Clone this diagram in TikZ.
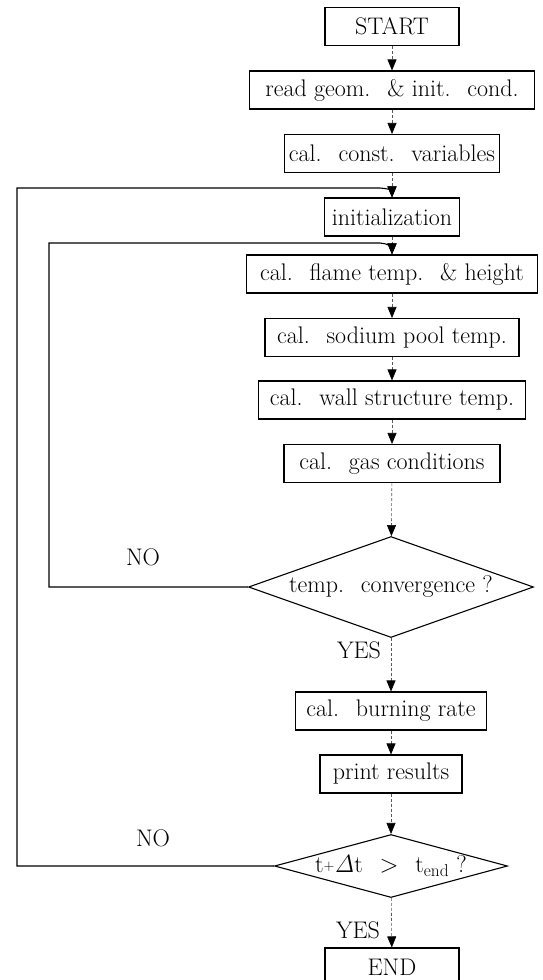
\documentclass[tikz,border=0pt]{standalone}
\usetikzlibrary{arrows.meta,shapes.geometric}
\newcommand{\wsp}{\hspace{0.7em}}

\begin{document}
\begin{tikzpicture}[x=1pt, y=-1pt, >={Triangle[length=11pt,width=9pt,color=black]},
   font=\fontsize{24}{28}\selectfont,
   proc/.style={rectangle, draw, line width=1.1pt, minimum height=38pt, inner sep=1pt},
   test/.style={diamond, draw, line width=1.1pt, inner sep=0pt},
   flow/.style={line width=0.6pt, densely dashed, black!65},
   back/.style={line width=1.1pt}]
   \useasboundingbox (0,0) rectangle (542,980);

   \node (start) at (392,26.5) [proc, minimum width=134pt] {START};
   \node (read) at (392,90) [proc, minimum width=285pt] {read geom.\wsp\& init.\wsp cond.};
   \node (const) at (392,153.5) [proc, minimum width=215pt] {cal.\wsp const.\wsp variables};
   \node (init) at (392,217) [proc, minimum width=135pt] {initialization};
   \node (flame) at (392,274) [proc, minimum width=291pt] {cal.\wsp flame temp.\wsp\& height};
   \node (pool) at (392,337.5) [proc, minimum width=254pt] {cal.\wsp sodium pool temp.};
   \node (wall) at (392,400) [proc, minimum width=267pt] {cal.\wsp wall structure temp.};
   \node (gas) at (392,463.5) [proc, minimum width=216pt] {cal.\wsp gas conditions};
   \node (conv) at (391,587) [test, aspect=2.82, minimum width=285pt, minimum height=101pt] {temp.\wsp convergence ?};
   \node (burn) at (391,711) [proc, minimum width=191pt] {cal.\wsp burning rate};
   \node (print) at (391,774) [proc, minimum width=142pt] {print results};
   \node (tend) at (391,866) [test, aspect=3.7, minimum width=233pt, minimum height=63pt] {t\raisebox{0.25ex}{\fontsize{15}{15}\selectfont+}$\mathit{\Delta}$t\wsp$>$\wsp t$_{\mathrm{end}}$ ?};
   \node (end) at (392,967) [proc, minimum width=134pt] {END};

   \node (no1) at (143,557) {NO};
   \node (yes1) at (359,650) {YES};
   \node (no2) at (153,838) {NO};
   \node (yes2) at (358,930) {YES};

   \coordinate (outer) at (17,188);
   \coordinate (outerend) at (380,188);
   \coordinate (inner) at (49,243);
   \coordinate (innerend) at (380,243);

   \draw (start)[->, flow] -- (read);
   \draw (read)[->, flow] -- (const);
   \draw (const)[->, flow] -- (init);
   \draw (init)[->, flow] -- (flame);
   \draw (flame)[->, flow] -- (pool);
   \draw (pool)[->, flow] -- (wall);
   \draw (wall)[->, flow] -- (gas);
   \draw (gas)[->, flow] -- (conv);
   \draw (conv)[->, flow] -- (burn);
   \draw (burn)[->, flow] -- (print);
   \draw (print)[->, flow] -- (tend);
   \draw (tend)[->, flow] -- (end);

   \draw [->, back] (conv.west) -| (inner) -- (innerend) to[out=0, in=90] (flame.north);
   \draw [->, back] (tend.west) -| (outer) -- (outerend) to[out=0, in=90] (init.north);

\end{tikzpicture}
\end{document}
